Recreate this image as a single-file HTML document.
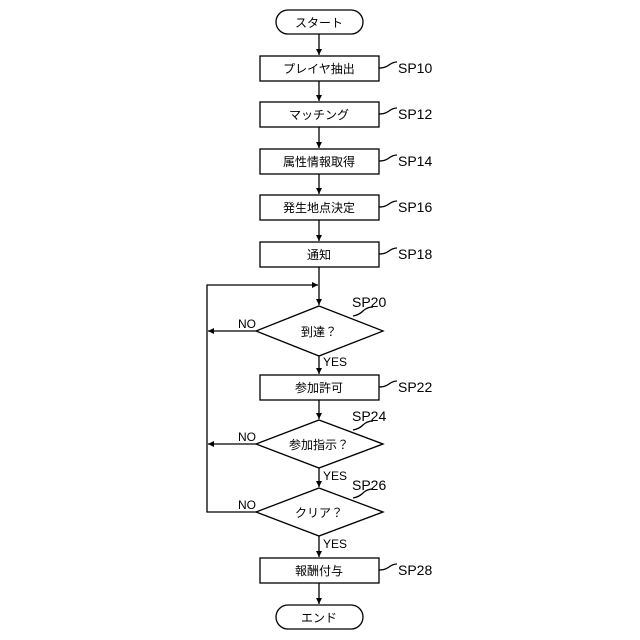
<!DOCTYPE html>
<html><head><meta charset="utf-8"><style>body{margin:0;background:#fff}svg{display:block}</style></head><body>
<svg width="640" height="640" viewBox="0 0 640 640" xmlns="http://www.w3.org/2000/svg" font-family="Liberation Sans, Noto Sans CJK JP, sans-serif">
<defs><marker id="a" markerWidth="8" markerHeight="8" refX="6" refY="3" orient="auto" markerUnits="userSpaceOnUse"><path d="M0,0 L6,3 L0,6 z" fill="#000"/></marker></defs>
<g stroke="#000" stroke-width="1.3" fill="none">
<rect x="276" y="10" width="87" height="24" rx="12" fill="#fff"/>
<rect x="276" y="605" width="87" height="24" rx="12" fill="#fff"/>
<rect x="260" y="56" width="119" height="25"/>
<rect x="260" y="102" width="119" height="25"/>
<rect x="260" y="149" width="119" height="25"/>
<rect x="260" y="195" width="119" height="25"/>
<rect x="260" y="242" width="119" height="25"/>
<rect x="260" y="375" width="119" height="25"/>
<rect x="260" y="558" width="119" height="25"/>
<polygon points="319,306 383,331 319,356 256,331"/>
<polygon points="319,420 383,444 319,468 256,444"/>
<polygon points="319,488 383,512 319,536 256,512"/>
<g marker-end="url(#a)">
<line x1="319" y1="34" x2="319" y2="55"/>
<line x1="319" y1="81" x2="319" y2="101"/>
<line x1="319" y1="127" x2="319" y2="148"/>
<line x1="319" y1="174" x2="319" y2="194"/>
<line x1="319" y1="220" x2="319" y2="241"/>
<line x1="319" y1="267" x2="319" y2="305"/>
<line x1="319" y1="356" x2="319" y2="374"/>
<line x1="319" y1="400" x2="319" y2="419"/>
<line x1="319" y1="468" x2="319" y2="487"/>
<line x1="319" y1="536" x2="319" y2="557"/>
<line x1="319" y1="583" x2="319" y2="604"/>
<line x1="256" y1="331" x2="208" y2="331"/>
<line x1="256" y1="444" x2="208" y2="444"/>
<polyline points="256,512 207,512 207,285 318,285"/>
</g>
<path d="M379,68 q6,0 10,-3 q4,-3 8,-3"/>
<path d="M379,114 q6,0 10,-3 q4,-3 8,-3"/>
<path d="M379,161 q6,0 10,-3 q4,-3 8,-3"/>
<path d="M379,207 q6,0 10,-3 q4,-3 8,-3"/>
<path d="M379,254 q6,0 10,-3 q4,-3 8,-3"/>
<path d="M379,387 q6,0 10,-3 q4,-3 8,-3"/>
<path d="M379,570 q6,0 10,-3 q4,-3 8,-3"/>
<path d="M353,316 q6,-1 10,-5 q4,-4 10,-4"/>
<path d="M353,430 q6,-1 10,-5 q4,-4 10,-4"/>
<path d="M353,498 q6,-1 10,-5 q4,-4 10,-4"/>
</g>
<g font-size="12" text-anchor="middle" fill="#000">
<text x="319" y="27">スタート</text>
<text x="319" y="622">エンド</text>
<text x="319" y="73">プレイヤ抽出</text>
<text x="319" y="119">マッチング</text>
<text x="319" y="166">属性情報取得</text>
<text x="319" y="212">発生地点決定</text>
<text x="319" y="259">通知</text>
<text x="319" y="392">参加許可</text>
<text x="319" y="575">報酬付与</text>
<text x="319" y="336">到達？</text>
<text x="319" y="449">参加指示？</text>
<text x="319" y="517">クリア？</text>
</g>
<g font-size="14" fill="#000">
<text x="398" y="73">SP10</text>
<text x="398" y="119">SP12</text>
<text x="398" y="166">SP14</text>
<text x="398" y="212">SP16</text>
<text x="398" y="259">SP18</text>
<text x="398" y="392">SP22</text>
<text x="398" y="575">SP28</text>
<text x="352" y="307">SP20</text>
<text x="352" y="421">SP24</text>
<text x="352" y="490">SP26</text>
</g>
<g font-size="12" fill="#000">
<text x="238" y="328">NO</text>
<text x="238" y="441">NO</text>
<text x="238" y="509">NO</text>
<text x="323" y="366">YES</text>
<text x="323" y="480">YES</text>
<text x="323" y="548">YES</text>
</g>
</svg>
</body></html>
